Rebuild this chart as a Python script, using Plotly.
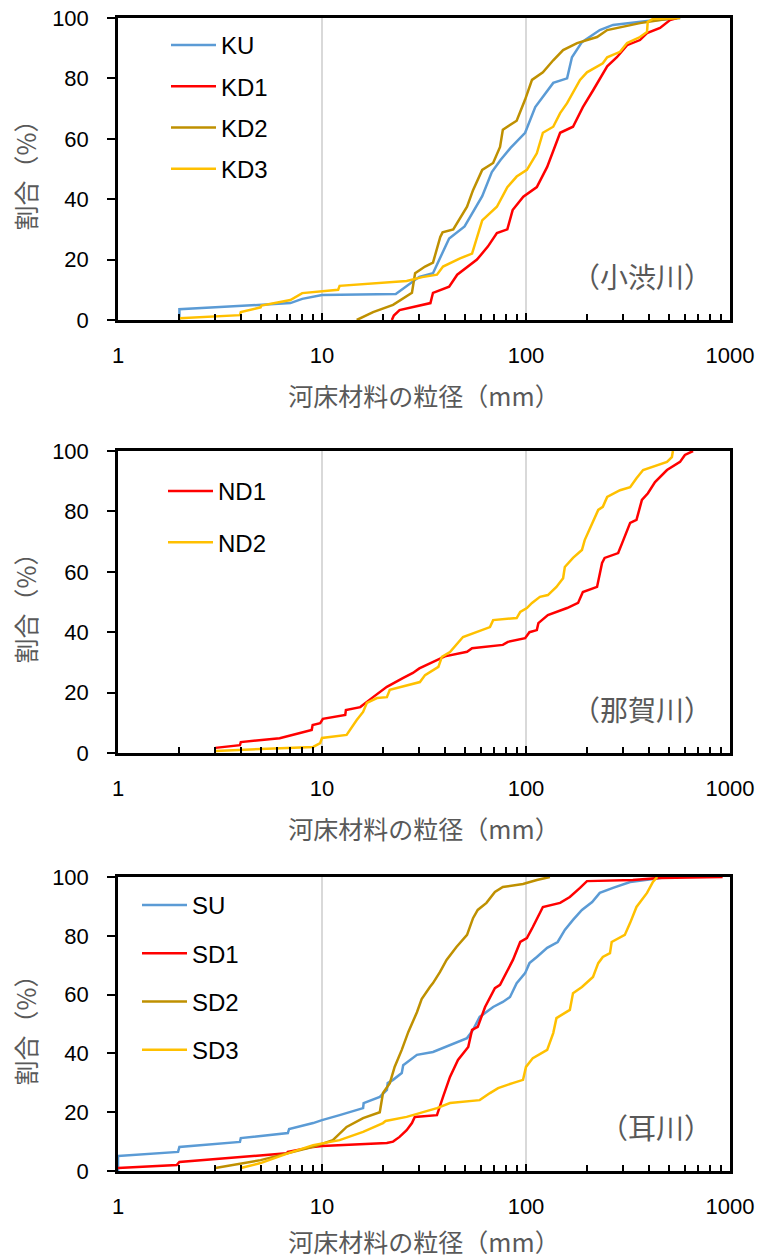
import plotly.graph_objects as go

# ---------------- data ----------------
# 小渋川
KU_x = [2, 2, 3, 5, 7, 8, 10, 23, 27, 30, 35, 39, 42, 50, 54, 61, 68, 75, 84, 99, 111, 121, 136, 159, 168, 188, 230, 267, 392, 570]
KU_y = [0, 3.6, 4.2, 5, 5.6, 7, 8.3, 8.6, 12, 14.3, 15.5, 22, 27, 31, 35, 41, 49, 53, 57, 62, 70.5, 74, 78.5, 80, 87, 92, 96, 97.7, 99, 100]
KD1_x = [22, 22.5, 24, 34, 35, 42, 46, 57.5, 65, 72, 81, 86, 97, 113, 127, 147, 170, 190, 213, 250, 279, 313, 362, 392, 454, 508, 550]
KD1_y = [0, 1.5, 3.3, 5.6, 9, 11, 15, 20, 24.3, 28.8, 30, 36.4, 40.8, 44, 50.7, 62, 64, 70.5, 76, 84, 87, 91, 92.7, 95, 96.7, 99.3, 100]
KD2_x = [14.8, 17.8, 22.3, 27.6, 28.6, 32, 35, 38, 39, 44, 51.4, 55, 61, 69, 74.6, 77, 90, 99, 107, 121, 136, 152, 178, 223, 250, 362, 491, 550]
KD2_y = [0, 2.6, 5, 9, 15.5, 17.7, 19, 27.5, 29, 30, 37.5, 43, 49.7, 52, 57.3, 63, 66, 73, 79.5, 82, 86, 89.4, 91.7, 93.7, 96, 98.3, 99.7, 100]
KD3_x = [2, 3.96, 4, 5, 5.05, 7, 8, 12, 12.2, 26, 31, 36.6, 39.2, 47.5, 54.4, 58.2, 61, 72, 81, 90, 101, 113, 121, 136, 147, 159, 184, 199, 238, 250, 289, 313, 362, 392, 395, 419, 570]
KD3_y = [0.6, 1.6, 2.6, 4.2, 4.8, 6.6, 8.9, 10, 11.3, 12.9, 14.2, 15, 17.7, 20.4, 22, 28.7, 33, 37.5, 44, 47.5, 49.7, 55.2, 62, 64, 68.5, 71.8, 79.5, 82, 85, 87, 88.8, 91.7, 93.7, 95.4, 98.7, 99.7, 100]

# 那賀川
ND1_x = [3, 3.96, 4, 6.2, 7.8, 8.9, 9, 9.8, 10.1, 13, 13.1, 15.4, 17.8, 20.8, 24.9, 27.9, 30, 40, 51.4, 54.4, 77, 81.5, 99, 104, 113, 115, 128, 159, 180, 190, 223, 236, 243, 283, 296, 324, 348, 370, 396, 429, 491, 569, 601, 637, 659]
ND1_y = [1.7, 2.6, 3.6, 4.9, 6.6, 7.6, 9.3, 9.9, 11.3, 12.6, 14.2, 15.2, 18.5, 21.9, 24.8, 26.5, 28, 32, 33.5, 34.7, 35.8, 36.8, 38, 40, 40.7, 43, 45.7, 48, 49.7, 53.3, 55, 62.9, 64.6, 66.2, 69.5, 76.2, 77.2, 83.8, 86, 89.7, 93.7, 96.4, 98.7, 99.7, 100]
ND2_x = [3, 9.05, 9.8, 10, 13.2, 14, 14.8, 15.9, 16.6, 18.6, 20.8, 21.5, 30.2, 32, 37.2, 38.7, 42.4, 49.1, 57.5, 66.6, 69, 90, 93.7, 101, 107, 117, 128, 141, 152, 155, 170, 188, 194, 211, 226, 238, 250, 289, 324, 348, 375, 491, 519, 525]
ND2_y = [0.7, 2, 3.3, 5, 6, 8.6, 10.9, 13.6, 16.6, 18.2, 18.5, 20.9, 23.5, 25.8, 28.5, 31.8, 33.4, 38.4, 40, 41.7, 44, 44.7, 46.7, 48, 49.7, 51.7, 52.3, 55, 57.9, 61.6, 64.6, 67.2, 70.5, 76.2, 80.5, 81.5, 84.8, 87, 88, 91, 93.7, 96.4, 98, 100]

# 耳川
SU_x = [1, 1, 1.97, 2, 3.96, 4, 6.8, 6.9, 9.05, 10, 12.2, 15.9, 16, 19.2, 20.8, 21, 22.3, 24.6, 25, 29.2, 35, 42.4, 51.4, 55, 59.3, 69, 77, 83.5, 90, 99, 104, 113, 127, 143, 155, 170, 188, 211, 230, 267, 324, 419, 491]
SU_y = [0, 5.1, 6.5, 8.2, 9.9, 11.2, 12.9, 14.3, 16.3, 17.3, 19, 21.4, 23.1, 25.2, 27.6, 29.9, 31, 33.3, 36, 39.5, 40.5, 42.9, 45.2, 48, 52.4, 55.8, 57.5, 59.2, 63.9, 67.3, 70.7, 72.8, 75.9, 77.9, 82, 85.4, 88.8, 91.5, 94.6, 96.3, 98.3, 99.3, 100]
SD1_x = [1, 1.94, 2, 6.7, 6.8, 9.05, 10, 20.8, 22.3, 24, 26, 27.6, 28.5, 36.6, 39.2, 42.4, 46.4, 52.1, 54.4, 58, 63, 66.6, 70.4, 74.6, 86.3, 93.7, 101, 108, 121, 147, 164, 184, 199, 334, 454, 920]
SD1_y = [1, 2, 3.1, 6, 6.5, 8.2, 8.5, 9.5, 10, 11.6, 13.9, 16.3, 18.4, 19, 25.2, 32, 37.8, 42.2, 48, 49, 55.8, 58.8, 62.2, 63.3, 71.8, 77.9, 79.2, 83, 89.8, 91.2, 93.2, 96.3, 98.6, 99, 99.7, 100]
SD2_x = [3, 5, 9.05, 11.3, 13.2, 15.9, 19.2, 19.9, 21.5, 22.7, 24.6, 26.5, 29.2, 30.8, 33.8, 35, 37.9, 40.8, 45.6, 51.4, 55, 58, 64, 70.4, 77, 96.7, 113, 131]
SD2_y = [1, 3.7, 8.2, 10.5, 15, 18, 20, 26.5, 29.9, 35.4, 41.2, 47.3, 54, 58.5, 62.6, 63.9, 67.7, 71.8, 76.2, 80.3, 86, 88.8, 91.2, 94.9, 96.6, 97.6, 99, 100]
SD3_x = [4, 5, 6.8, 9.05, 12.2, 15.9, 19.9, 20.5, 26, 33.8, 36.6, 42.4, 59.3, 66.6, 73, 86, 96.7, 100, 108, 127, 136, 141, 164, 170, 188, 213, 226, 238, 258, 263, 305, 324, 348, 392, 419, 440]
SD3_y = [1, 2.7, 6, 8.8, 10.5, 13.3, 16.3, 17, 18.4, 20.7, 21.4, 23.1, 24.1, 26.5, 28.2, 29.9, 31, 35.4, 38.4, 41.2, 46.9, 52, 54.8, 60.5, 62.6, 66, 70.7, 72.8, 74.1, 77.9, 80.3, 84.4, 89.8, 94.6, 98.3, 100]

X_TICKS = [1, 10, 100, 1000]
X_TICK_TEXT = ["1", "10", "100", "1000"]
Y_TICKS = [0, 20, 40, 60, 80, 100]
X_TITLE = "河床材料の粒径（mm）"
Y_TITLE = "割合（%）"
RIVERS = ["（小渋川）", "（那賀川）", "（耳川）"]

BLUE, RED, OLIVE, GOLD = "#5B9BD5", "#FF0000", "#BF9000", "#FFC000"

W, H = 761, 1259
PX_L, PX_R = 118, 730
PANELS = [(18, 320), (451, 753), (877, 1171)]

def py(v):
    return 1 - v / H

fig = go.Figure()

series = [
    (1, "legend", [("KU", KU_x, KU_y, BLUE), ("KD1", KD1_x, KD1_y, RED), ("KD2", KD2_x, KD2_y, OLIVE), ("KD3", KD3_x, KD3_y, GOLD)]),
    (2, "legend2", [("ND1", ND1_x, ND1_y, RED), ("ND2", ND2_x, ND2_y, GOLD)]),
    (3, "legend3", [("SU", SU_x, SU_y, BLUE), ("SD1", SD1_x, SD1_y, RED), ("SD2", SD2_x, SD2_y, OLIVE), ("SD3", SD3_x, SD3_y, GOLD)]),
]
for idx, leg, lst in series:
    sfx = "" if idx == 1 else str(idx)
    for name, xs, ys, col in lst:
        fig.add_trace(go.Scatter(x=xs, y=ys, mode="lines", name=name,
                                 line=dict(color=col, width=2.5),
                                 xaxis="x" + sfx, yaxis="y" + sfx,
                                 legend=leg, legendgroup=name))

tick_font = dict(family="Liberation Sans, Arial", size=22, color="#000000")
title_font = dict(family="Noto Sans CJK JP", size=25, color="#595959")
minor_vals = [m * 10 ** e for e in range(0, 3) for m in range(2, 10)]

layout = dict(width=W, height=H, margin=dict(l=0, r=0, t=0, b=0, autoexpand=False),
              paper_bgcolor="white", plot_bgcolor="white", annotations=[])

for i, (top, bot) in enumerate(PANELS):
    sfx = "" if i == 0 else str(i + 1)
    layout["xaxis" + sfx] = dict(
        type="log", range=[0, 3], domain=[PX_L / W, PX_R / W],
        anchor="y" + sfx, tickvals=X_TICKS, ticktext=X_TICK_TEXT,
        showgrid=True, gridcolor="#d9d9d9", gridwidth=1.5,
        showline=True, mirror=True, linecolor="black", linewidth=2.5,
        ticks="inside", ticklen=7, tickwidth=1.5, tickcolor="black",
        minor=dict(tickvals=minor_vals, ticks="inside", ticklen=6, tickwidth=1.5,
                   tickcolor="black", showgrid=False),
        tickfont=tick_font, ticklabelstandoff=14, automargin=False,
        title=dict(text=X_TITLE, font=title_font, standoff=22),
        zeroline=False,
    )
    layout["yaxis" + sfx] = dict(
        range=[0, 100], domain=[py(bot), py(top)], anchor="x" + sfx,
        tickvals=Y_TICKS, showgrid=False,
        showline=True, mirror=True, linecolor="black", linewidth=2.5,
        ticks="outside", ticklen=8, tickwidth=1.5, tickcolor="black",
        tickfont=tick_font, ticklabelstandoff=14, automargin=False,
        title=dict(text=Y_TITLE, font=title_font, standoff=9),
        zeroline=False,
    )
    layout["annotations"].append(dict(
        text=RIVERS[i], xref="paper", yref="paper", x=714 / W,
        y=py(bot - 44), xanchor="right", yanchor="middle", showarrow=False,
        font=dict(family="Noto Sans CJK JP", size=28, color="#595959")))

leg_font = dict(family="Liberation Sans, Arial", size=24, color="#000000")
layout["legend"] = dict(x=166 / W, y=py(23), xanchor="left", yanchor="top",
                        font=leg_font, bgcolor="rgba(0,0,0,0)", tracegroupgap=7,
                        itemwidth=45)
layout["legend2"] = dict(x=163 / W, y=py(469), xanchor="left", yanchor="top",
                         font=leg_font, bgcolor="rgba(0,0,0,0)", tracegroupgap=17,
                         itemwidth=45)
layout["legend3"] = dict(x=137 / W, y=py(883), xanchor="left", yanchor="top",
                         font=leg_font, bgcolor="rgba(0,0,0,0)", tracegroupgap=14,
                         itemwidth=45)

fig.update_layout(**layout)
fig.write_html("out.html")
